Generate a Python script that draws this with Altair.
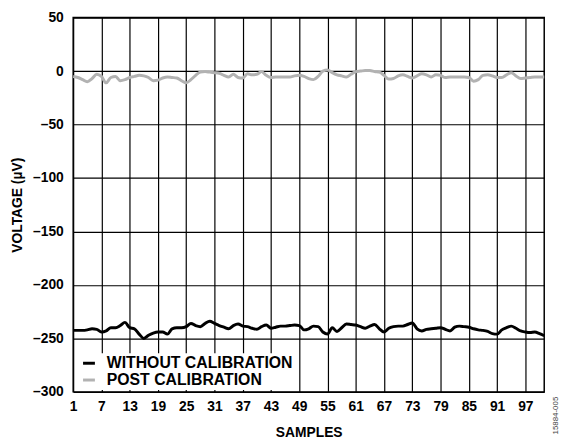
import altair as alt
import pandas as pd

samples = list(range(1, 102))

without_cal = [
    -242.5, -242.5, -242.5, -242, -241, -241.5, -244, -243, -240, -240,
    -238, -235, -240, -241, -246, -250, -247, -245, -244, -244,
    -246, -241, -240, -240, -239, -236, -238, -239, -236, -234,
    -236, -238, -239.5, -241, -238, -236.5, -238.5, -239, -240.5, -241.5,
    -239, -237.5, -240.5, -239.5, -238.5, -238.5, -238, -237.5, -238, -242,
    -241, -238.5, -239, -244, -246, -240, -243.5, -240, -236.5, -237,
    -237.5, -239, -240.5, -238.5, -237, -241, -244, -240.5, -239, -238.5,
    -238.5, -237, -235.5, -241, -243, -241.5, -241, -240.5, -240, -241.5,
    -243, -239.5, -238.5, -239, -239.5, -241, -242, -242.5, -243.5, -245.5,
    -246, -242, -240, -238.5, -240.5, -243, -244, -244.5, -244, -245.5,
    -247.5,
]

post_cal = [
    -5, -6, -8, -10, -7, -3, -5, -11, -6, -5,
    -9, -8, -6, -5, -4, -4.5, -6, -9, -8.5, -6.5,
    -5.5, -6, -6.5, -9, -11, -8, -4, -1, -0.5, -1,
    -1.5, -2, -4, -5.5, -3, -6, -6.5, -2.5, -3.5, -3,
    -0.5, -4, -6, -5.5, -5.5, -5.5, -5.5, -4.5, -4, -5,
    -7, -8, -5, 0, 1, -1.5, -3.5, -4.5, -5.5, -3,
    -0.5, 0, 0.5, 0.5, -0.5, -1, -4, -7.5, -7, -4.5,
    -3.5, -5, -6.5, -4.5, -2.5, -3.5, -5.5, -3.5, -4, -6,
    -5.5, -5.5, -5.5, -5.5, -6, -9.5, -8, -4, -3.5, -4.5,
    -6, -6, -3.5, -1.5, -4.5, -7, -6.5, -6, -5.5, -5.5,
    -5.5,
]

series_names = ["WITHOUT CALIBRATION", "POST CALIBRATION"]
series_colors = ["#000000", "#b2b2b2"]
x_ticks = list(range(1, 98, 6))
y_ticks = list(range(-300, 51, 50))

df = pd.concat([
    pd.DataFrame({"sample": samples, "value": without_cal, "series": series_names[0], "order": 0}),
    pd.DataFrame({"sample": samples, "value": post_cal, "series": series_names[1], "order": 1}),
])

FONT = "Liberation Sans"

lines = alt.Chart(df).mark_line(strokeWidth=3, interpolate="monotone").encode(
    x=alt.X("sample:Q",
            scale=alt.Scale(domain=[1, 101], nice=False, zero=False),
            axis=alt.Axis(values=x_ticks, title="SAMPLES", grid=True, ticks=False,
                          labelPadding=8, titlePadding=12, domain=False,
                          labelFlush=False)),
    y=alt.Y("value:Q",
            scale=alt.Scale(domain=[-300, 50], nice=False, zero=False),
            axis=alt.Axis(values=y_ticks, title="VOLTAGE (µV)", grid=True, ticks=False,
                          labelPadding=10, titlePadding=8, domain=False,
                          labelExpr="datum.value < 0 ? '–' + abs(datum.value) : '' + datum.value")),
    color=alt.Color("series:N",
                    scale=alt.Scale(domain=series_names, range=series_colors),
                    legend=alt.Legend(title=None, orient="none", legendX=6, legendY=340,
                                      fillColor="white", padding=2, symbolType="stroke",
                                      symbolStrokeWidth=3, symbolSize=144, labelOffset=10,
                                      labelFontSize=16, labelFont=FONT, labelFontWeight="bold",
                                      labelColor="#000000", rowPadding=1, offset=0,
                                      labelLimit=400)),
    detail="series:N",
    order="order:Q",
)

tag = alt.Chart(pd.DataFrame({"t": ["15884-005"]})).mark_text(
    angle=270, fontSize=8, font=FONT, color="#444444", align="center", baseline="middle"
).encode(text="t:N", x=alt.value(489), y=alt.value(403))

chart = alt.layer(lines, tag).properties(
    width=477, height=379,
    autosize=alt.AutoSizeParams(type="none"),
    padding={"left": 66, "top": 7, "right": 18, "bottom": 46},
).configure_axis(
    gridColor="#000000", gridWidth=1.2, gridOpacity=1,
    labelFont=FONT, labelFontSize=14, labelFontWeight="bold", labelColor="#000000",
    titleFont=FONT, titleFontSize=14, titleFontWeight="bold", titleColor="#000000",
).configure_view(stroke="#000000", strokeWidth=1.5)

chart.save("out.html", embed_options={"renderer": "svg", "actions": False})
